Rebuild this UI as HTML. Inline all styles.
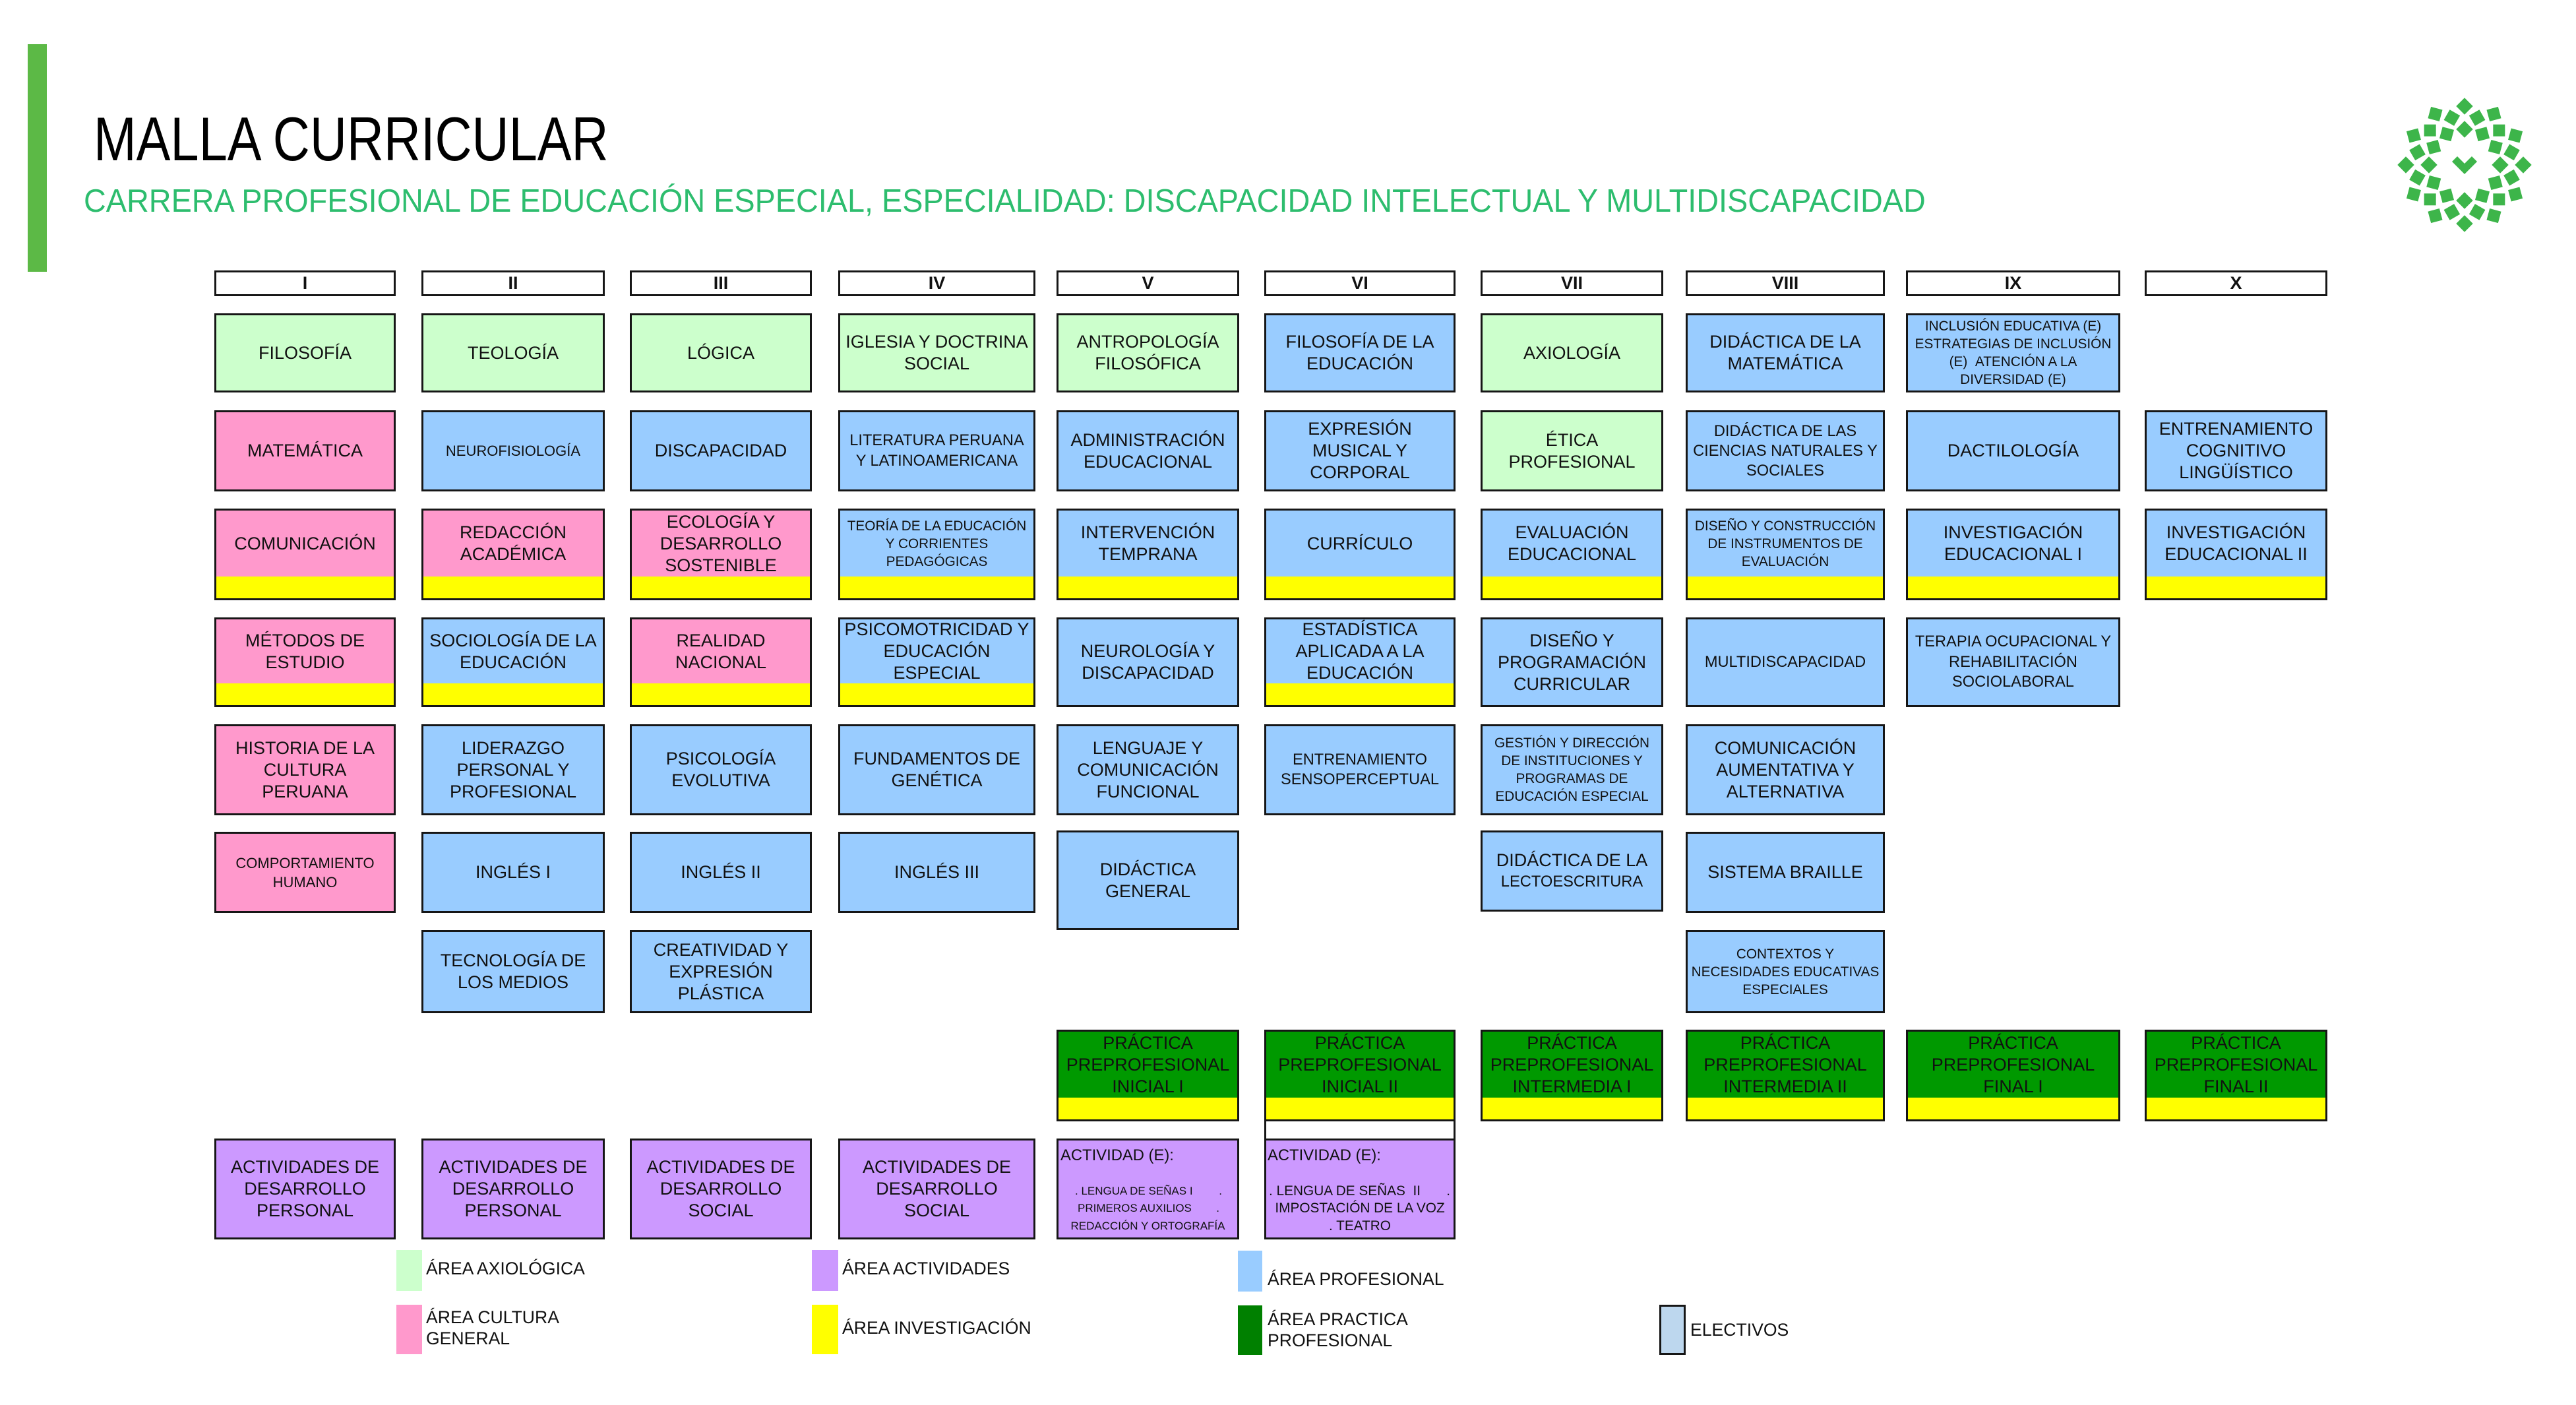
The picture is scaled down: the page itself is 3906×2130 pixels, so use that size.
<!DOCTYPE html>
<html><head><meta charset="utf-8">
<style>
html,body{margin:0;padding:0}
body{width:3906px;height:2130px;position:relative;background:#fff;font-family:"Liberation Sans",Arial,sans-serif;overflow:hidden;color:#111}
.b{position:absolute;box-sizing:border-box;border:3px solid #161616}
.t{position:absolute;left:0;right:0;top:0;bottom:0;display:flex;align-items:center;justify-content:center;text-align:center;white-space:nowrap;font-size:27px;line-height:33px}
.yb{bottom:33px}
.y{position:absolute;left:0;right:0;bottom:0;height:33px;background:#ffff00}
.h{top:410px;height:39px;background:#fff;display:flex;align-items:center;justify-content:center;font-weight:bold;font-size:27px}
.s24{font-size:23.6px;line-height:30.5px}
.s22{font-size:22px;line-height:29px}
.s21{font-size:20.8px;line-height:27px}
.lg{background:#ccffcc}.pk{background:#ff99cc}.bl{background:#99ccff}.pu{background:#cc99ff}.dg{background:#009900}
.leg{position:absolute;white-space:nowrap;font-size:26.6px;line-height:32px}
.sq{position:absolute}
.ab{position:absolute;white-space:nowrap}
</style></head><body>

<!-- left bar -->
<div style="position:absolute;left:42px;top:67px;width:29px;height:345px;background:#5cb946"></div>

<!-- title -->
<div style="position:absolute;left:142px;top:164px;font-size:93.5px;line-height:93.5px;transform:scaleX(0.83);transform-origin:0 0;white-space:nowrap;color:#000">MALLA CURRICULAR</div>
<div style="position:absolute;left:127px;top:280.5px;font-size:49px;line-height:49px;transform:scaleX(0.955);transform-origin:0 0;white-space:nowrap;color:#2dbd6e">CARRERA PROFESIONAL DE EDUCACIÓN ESPECIAL, ESPECIALIDAD: DISCAPACIDAD INTELECTUAL Y MULTIDISCAPACIDAD</div>

<!-- logo -->
<svg style="position:absolute;left:0;top:0" width="3906" height="2130" viewBox="0 0 3906 2130">
<g transform="translate(3737,250)" fill="#3db54a">
<rect x="-9" y="-9" width="18" height="18" transform="rotate(0) translate(0,-89) rotate(45)"/>
<rect x="-9" y="-9" width="18" height="18" transform="rotate(30) translate(0,-89) rotate(45)"/>
<rect x="-9" y="-9" width="18" height="18" transform="rotate(60) translate(0,-89) rotate(45)"/>
<rect x="-9" y="-9" width="18" height="18" transform="rotate(90) translate(0,-89) rotate(45)"/>
<rect x="-9" y="-9" width="18" height="18" transform="rotate(120) translate(0,-89) rotate(45)"/>
<rect x="-9" y="-9" width="18" height="18" transform="rotate(150) translate(0,-89) rotate(45)"/>
<rect x="-9" y="-9" width="18" height="18" transform="rotate(180) translate(0,-89) rotate(45)"/>
<rect x="-9" y="-9" width="18" height="18" transform="rotate(210) translate(0,-89) rotate(45)"/>
<rect x="-9" y="-9" width="18" height="18" transform="rotate(240) translate(0,-89) rotate(45)"/>
<rect x="-9" y="-9" width="18" height="18" transform="rotate(270) translate(0,-89) rotate(45)"/>
<rect x="-9" y="-9" width="18" height="18" transform="rotate(300) translate(0,-89) rotate(45)"/>
<rect x="-9" y="-9" width="18" height="18" transform="rotate(330) translate(0,-89) rotate(45)"/>
<rect x="-9" y="-9" width="18" height="18" transform="rotate(15) translate(0,-74) rotate(45)"/>
<rect x="-9" y="-9" width="18" height="18" transform="rotate(45) translate(0,-74) rotate(45)"/>
<rect x="-9" y="-9" width="18" height="18" transform="rotate(75) translate(0,-74) rotate(45)"/>
<rect x="-9" y="-9" width="18" height="18" transform="rotate(105) translate(0,-74) rotate(45)"/>
<rect x="-9" y="-9" width="18" height="18" transform="rotate(135) translate(0,-74) rotate(45)"/>
<rect x="-9" y="-9" width="18" height="18" transform="rotate(165) translate(0,-74) rotate(45)"/>
<rect x="-9" y="-9" width="18" height="18" transform="rotate(195) translate(0,-74) rotate(45)"/>
<rect x="-9" y="-9" width="18" height="18" transform="rotate(225) translate(0,-74) rotate(45)"/>
<rect x="-9" y="-9" width="18" height="18" transform="rotate(255) translate(0,-74) rotate(45)"/>
<rect x="-9" y="-9" width="18" height="18" transform="rotate(285) translate(0,-74) rotate(45)"/>
<rect x="-9" y="-9" width="18" height="18" transform="rotate(315) translate(0,-74) rotate(45)"/>
<rect x="-9" y="-9" width="18" height="18" transform="rotate(345) translate(0,-74) rotate(45)"/>
<rect x="-9" y="-9" width="18" height="18" transform="rotate(0) translate(0,-54) rotate(45)"/>
<rect x="-9" y="-9" width="18" height="18" transform="rotate(30) translate(0,-54) rotate(45)"/>
<rect x="-9" y="-9" width="18" height="18" transform="rotate(60) translate(0,-54) rotate(45)"/>
<rect x="-9" y="-9" width="18" height="18" transform="rotate(90) translate(0,-54) rotate(45)"/>
<rect x="-9" y="-9" width="18" height="18" transform="rotate(120) translate(0,-54) rotate(45)"/>
<rect x="-9" y="-9" width="18" height="18" transform="rotate(150) translate(0,-54) rotate(45)"/>
<rect x="-9" y="-9" width="18" height="18" transform="rotate(180) translate(0,-54) rotate(45)"/>
<rect x="-9" y="-9" width="18" height="18" transform="rotate(210) translate(0,-54) rotate(45)"/>
<rect x="-9" y="-9" width="18" height="18" transform="rotate(240) translate(0,-54) rotate(45)"/>
<rect x="-9" y="-9" width="18" height="18" transform="rotate(270) translate(0,-54) rotate(45)"/>
<rect x="-9" y="-9" width="18" height="18" transform="rotate(300) translate(0,-54) rotate(45)"/>
<rect x="-9" y="-9" width="18" height="18" transform="rotate(330) translate(0,-54) rotate(45)"/>
<polygon points="-19,-5 -11,-13 0,-2 11,-13 19,-5 0,14"/>
</g>
</svg>

<!-- headers -->
<div class="b h" style="left:325px;width:275px">I</div>
<div class="b h" style="left:639px;width:278px">II</div>
<div class="b h" style="left:955px;width:276px">III</div>
<div class="b h" style="left:1271px;width:299px">IV</div>
<div class="b h" style="left:1602px;width:277px">V</div>
<div class="b h" style="left:1917px;width:290px">VI</div>
<div class="b h" style="left:2245px;width:277px">VII</div>
<div class="b h" style="left:2556px;width:302px">VIII</div>
<div class="b h" style="left:2890px;width:325px">IX</div>
<div class="b h" style="left:3252px;width:277px">X</div>

<!-- Column I -->
<div class="b lg" style="left:325px;top:475px;width:275px;height:120px"><div class="t">FILOSOFÍA</div></div>
<div class="b pk" style="left:325px;top:622px;width:275px;height:123px"><div class="t">MATEMÁTICA</div></div>
<div class="b pk" style="left:325px;top:771px;width:275px;height:139px"><div class="t yb">COMUNICACIÓN</div><div class="y"></div></div>
<div class="b pk" style="left:325px;top:936px;width:275px;height:136px"><div class="t yb">MÉTODOS DE<br>ESTUDIO</div><div class="y"></div></div>
<div class="b pk" style="left:325px;top:1098px;width:275px;height:138px"><div class="t">HISTORIA DE LA<br>CULTURA<br>PERUANA</div></div>
<div class="b pk" style="left:325px;top:1261px;width:275px;height:123px"><div class="t s22">COMPORTAMIENTO<br>HUMANO</div></div>
<div class="b pu" style="left:325px;top:1726px;width:275px;height:153px"><div class="t">ACTIVIDADES DE<br>DESARROLLO<br>PERSONAL</div></div>

<!-- Column II -->
<div class="b lg" style="left:639px;top:475px;width:278px;height:120px"><div class="t">TEOLOGÍA</div></div>
<div class="b bl" style="left:639px;top:622px;width:278px;height:123px"><div class="t s22">NEUROFISIOLOGÍA</div></div>
<div class="b pk" style="left:639px;top:771px;width:278px;height:139px"><div class="t yb">REDACCIÓN<br>ACADÉMICA</div><div class="y"></div></div>
<div class="b bl" style="left:639px;top:936px;width:278px;height:136px"><div class="t yb">SOCIOLOGÍA DE LA<br>EDUCACIÓN</div><div class="y"></div></div>
<div class="b bl" style="left:639px;top:1098px;width:278px;height:138px"><div class="t">LIDERAZGO<br>PERSONAL Y<br>PROFESIONAL</div></div>
<div class="b bl" style="left:639px;top:1261px;width:278px;height:123px"><div class="t">INGLÉS I</div></div>
<div class="b bl" style="left:639px;top:1410px;width:278px;height:126px"><div class="t">TECNOLOGÍA DE<br>LOS MEDIOS</div></div>
<div class="b pu" style="left:639px;top:1726px;width:278px;height:153px"><div class="t">ACTIVIDADES DE<br>DESARROLLO<br>PERSONAL</div></div>

<!-- Column III -->
<div class="b lg" style="left:955px;top:475px;width:276px;height:120px"><div class="t">LÓGICA</div></div>
<div class="b bl" style="left:955px;top:622px;width:276px;height:123px"><div class="t">DISCAPACIDAD</div></div>
<div class="b pk" style="left:955px;top:771px;width:276px;height:139px"><div class="t yb">ECOLOGÍA Y<br>DESARROLLO<br>SOSTENIBLE</div><div class="y"></div></div>
<div class="b pk" style="left:955px;top:936px;width:276px;height:136px"><div class="t yb">REALIDAD<br>NACIONAL</div><div class="y"></div></div>
<div class="b bl" style="left:955px;top:1098px;width:276px;height:138px"><div class="t">PSICOLOGÍA<br>EVOLUTIVA</div></div>
<div class="b bl" style="left:955px;top:1261px;width:276px;height:123px"><div class="t">INGLÉS II</div></div>
<div class="b bl" style="left:955px;top:1410px;width:276px;height:126px"><div class="t">CREATIVIDAD Y<br>EXPRESIÓN<br>PLÁSTICA</div></div>
<div class="b pu" style="left:955px;top:1726px;width:276px;height:153px"><div class="t">ACTIVIDADES DE<br>DESARROLLO<br>SOCIAL</div></div>

<!-- Column IV -->
<div class="b lg" style="left:1271px;top:475px;width:299px;height:120px"><div class="t">IGLESIA Y DOCTRINA<br>SOCIAL</div></div>
<div class="b bl" style="left:1271px;top:622px;width:299px;height:123px"><div class="t s24">LITERATURA PERUANA<br>Y LATINOAMERICANA</div></div>
<div class="b bl" style="left:1271px;top:771px;width:299px;height:139px"><div class="t yb s21">TEORÍA DE LA EDUCACIÓN<br>Y CORRIENTES<br>PEDAGÓGICAS</div><div class="y"></div></div>
<div class="b bl" style="left:1271px;top:936px;width:299px;height:136px"><div class="t yb">PSICOMOTRICIDAD Y<br>EDUCACIÓN<br>ESPECIAL</div><div class="y"></div></div>
<div class="b bl" style="left:1271px;top:1098px;width:299px;height:138px"><div class="t">FUNDAMENTOS DE<br>GENÉTICA</div></div>
<div class="b bl" style="left:1271px;top:1261px;width:299px;height:123px"><div class="t">INGLÉS III</div></div>
<div class="b pu" style="left:1271px;top:1726px;width:299px;height:153px"><div class="t">ACTIVIDADES DE<br>DESARROLLO<br>SOCIAL</div></div>

<!-- Column V -->
<div class="b lg" style="left:1602px;top:475px;width:277px;height:120px"><div class="t">ANTROPOLOGÍA<br>FILOSÓFICA</div></div>
<div class="b bl" style="left:1602px;top:622px;width:277px;height:123px"><div class="t">ADMINISTRACIÓN<br>EDUCACIONAL</div></div>
<div class="b bl" style="left:1602px;top:771px;width:277px;height:139px"><div class="t yb">INTERVENCIÓN<br>TEMPRANA</div><div class="y"></div></div>
<div class="b bl" style="left:1602px;top:936px;width:277px;height:136px"><div class="t">NEUROLOGÍA Y<br>DISCAPACIDAD</div></div>
<div class="b bl" style="left:1602px;top:1098px;width:277px;height:138px"><div class="t">LENGUAJE Y<br>COMUNICACIÓN<br>FUNCIONAL</div></div>
<div class="b bl" style="left:1602px;top:1259px;width:277px;height:151px"><div class="t">DIDÁCTICA<br>GENERAL</div></div>
<div class="b dg" style="left:1602px;top:1561px;width:277px;height:139px"><div class="t yb">PRÁCTICA<br>PREPROFESIONAL<br>INICIAL I</div><div class="y"></div></div>
<div class="b pu" style="left:1602px;top:1726px;width:277px;height:153px">
  <div class="ab" style="left:3px;top:9px;font-size:23.8px;line-height:28px">ACTIVIDAD (E):</div>
  <div class="ab" style="left:25px;width:223px;top:64px;font-size:17px;line-height:26px;display:flex;justify-content:space-between"><span>. LENGUA DE SEÑAS I</span><span>.</span></div>
  <div class="ab" style="left:29px;width:215px;top:90px;font-size:17px;line-height:26px;display:flex;justify-content:space-between"><span>PRIMEROS AUXILIOS</span><span>.</span></div>
  <div class="ab" style="left:0;right:0;top:117px;font-size:17px;line-height:26px;text-align:center">REDACCIÓN Y ORTOGRAFÍA</div>
</div>

<!-- Column VI -->
<div class="b bl" style="left:1917px;top:475px;width:290px;height:120px"><div class="t">FILOSOFÍA DE LA<br>EDUCACIÓN</div></div>
<div class="b bl" style="left:1917px;top:622px;width:290px;height:123px"><div class="t">EXPRESIÓN<br>MUSICAL Y<br>CORPORAL</div></div>
<div class="b bl" style="left:1917px;top:771px;width:290px;height:139px"><div class="t yb">CURRÍCULO</div><div class="y"></div></div>
<div class="b bl" style="left:1917px;top:936px;width:290px;height:136px"><div class="t yb">ESTADÍSTICA<br>APLICADA A LA<br>EDUCACIÓN</div><div class="y"></div></div>
<div class="b bl" style="left:1917px;top:1098px;width:290px;height:138px"><div class="t s24">ENTRENAMIENTO<br>SENSOPERCEPTUAL</div></div>
<div class="b" style="left:1917px;top:1697px;width:290px;height:32px;background:#fff"></div>
<div class="b dg" style="left:1917px;top:1561px;width:290px;height:139px"><div class="t yb">PRÁCTICA<br>PREPROFESIONAL<br>INICIAL II</div><div class="y"></div></div>
<div class="b pu" style="left:1917px;top:1726px;width:290px;height:153px">
  <div class="ab" style="left:2px;top:9px;font-size:23.8px;line-height:28px">ACTIVIDAD (E):</div>
  <div class="ab" style="left:4px;width:275px;top:63px;font-size:20.8px;line-height:27px;display:flex;justify-content:space-between"><span>. LENGUA DE SEÑAS &nbsp;II</span><span>.</span></div>
  <div class="ab" style="left:0;right:0;top:89px;font-size:20.8px;line-height:27px;text-align:center">IMPOSTACIÓN DE LA VOZ</div>
  <div class="ab" style="left:0;right:0;top:116px;font-size:20.8px;line-height:27px;text-align:center">. TEATRO</div>
</div>

<!-- Column VII -->
<div class="b lg" style="left:2245px;top:475px;width:277px;height:120px"><div class="t">AXIOLOGÍA</div></div>
<div class="b lg" style="left:2245px;top:622px;width:277px;height:123px"><div class="t">ÉTICA<br>PROFESIONAL</div></div>
<div class="b bl" style="left:2245px;top:771px;width:277px;height:139px"><div class="t yb">EVALUACIÓN<br>EDUCACIONAL</div><div class="y"></div></div>
<div class="b bl" style="left:2245px;top:936px;width:277px;height:136px"><div class="t">DISEÑO Y<br>PROGRAMACIÓN<br>CURRICULAR</div></div>
<div class="b bl" style="left:2245px;top:1098px;width:277px;height:138px"><div class="t s21">GESTIÓN Y DIRECCIÓN<br>DE INSTITUCIONES Y<br>PROGRAMAS DE<br>EDUCACIÓN ESPECIAL</div></div>
<div class="b bl" style="left:2245px;top:1259px;width:277px;height:123px"><div class="t" style="line-height:31px"><div>DIDÁCTICA DE LA<br><span style="font-size:23.7px">LECTOESCRITURA</span></div></div></div>
<div class="b dg" style="left:2245px;top:1561px;width:277px;height:139px"><div class="t yb">PRÁCTICA<br>PREPROFESIONAL<br>INTERMEDIA I</div><div class="y"></div></div>

<!-- Column VIII -->
<div class="b bl" style="left:2556px;top:475px;width:302px;height:120px"><div class="t">DIDÁCTICA DE LA<br>MATEMÁTICA</div></div>
<div class="b bl" style="left:2556px;top:622px;width:302px;height:123px"><div class="t s24" style="line-height:30px">DIDÁCTICA DE LAS<br>CIENCIAS NATURALES Y<br>SOCIALES</div></div>
<div class="b bl" style="left:2556px;top:771px;width:302px;height:139px"><div class="t yb s21">DISEÑO Y CONSTRUCCIÓN<br>DE INSTRUMENTOS DE<br>EVALUACIÓN</div><div class="y"></div></div>
<div class="b bl" style="left:2556px;top:936px;width:302px;height:136px"><div class="t s24">MULTIDISCAPACIDAD</div></div>
<div class="b bl" style="left:2556px;top:1098px;width:302px;height:138px"><div class="t">COMUNICACIÓN<br>AUMENTATIVA Y<br>ALTERNATIVA</div></div>
<div class="b bl" style="left:2556px;top:1261px;width:302px;height:123px"><div class="t">SISTEMA BRAILLE</div></div>
<div class="b bl" style="left:2556px;top:1410px;width:302px;height:126px"><div class="t s21">CONTEXTOS Y<br>NECESIDADES EDUCATIVAS<br>ESPECIALES</div></div>
<div class="b dg" style="left:2556px;top:1561px;width:302px;height:139px"><div class="t yb">PRÁCTICA<br>PREPROFESIONAL<br>INTERMEDIA II</div><div class="y"></div></div>

<!-- Column IX -->
<div class="b bl" style="left:2890px;top:475px;width:325px;height:120px"><div class="t s21">INCLUSIÓN EDUCATIVA (E)<br>ESTRATEGIAS DE INCLUSIÓN<br>(E) &nbsp;ATENCIÓN A LA<br>DIVERSIDAD (E)</div></div>
<div class="b bl" style="left:2890px;top:622px;width:325px;height:123px"><div class="t">DACTILOLOGÍA</div></div>
<div class="b bl" style="left:2890px;top:771px;width:325px;height:139px"><div class="t yb">INVESTIGACIÓN<br>EDUCACIONAL I</div><div class="y"></div></div>
<div class="b bl" style="left:2890px;top:936px;width:325px;height:136px"><div class="t s24">TERAPIA OCUPACIONAL Y<br>REHABILITACIÓN<br>SOCIOLABORAL</div></div>
<div class="b dg" style="left:2890px;top:1561px;width:325px;height:139px"><div class="t yb">PRÁCTICA<br>PREPROFESIONAL<br>FINAL I</div><div class="y"></div></div>

<!-- Column X -->
<div class="b bl" style="left:3252px;top:622px;width:277px;height:123px"><div class="t">ENTRENAMIENTO<br>COGNITIVO<br>LINGÜÍSTICO</div></div>
<div class="b bl" style="left:3252px;top:771px;width:277px;height:139px"><div class="t yb">INVESTIGACIÓN<br>EDUCACIONAL II</div><div class="y"></div></div>
<div class="b dg" style="left:3252px;top:1561px;width:277px;height:139px"><div class="t yb">PRÁCTICA<br>PREPROFESIONAL<br>FINAL II</div><div class="y"></div></div>

<!-- Legend -->
<div class="sq" style="left:601px;top:1895px;width:39px;height:62px;background:#ccffcc"></div>
<div class="leg" style="left:646px;top:1907px">ÁREA AXIOLÓGICA</div>
<div class="sq" style="left:601px;top:1978px;width:39px;height:75px;background:#ff99cc"></div>
<div class="leg" style="left:646px;top:1981px">ÁREA CULTURA<br>GENERAL</div>

<div class="sq" style="left:1231px;top:1895px;width:40px;height:62px;background:#cc99ff"></div>
<div class="leg" style="left:1277px;top:1907px">ÁREA ACTIVIDADES</div>
<div class="sq" style="left:1231px;top:1978px;width:40px;height:75px;background:#ffff00"></div>
<div class="leg" style="left:1277px;top:1997px">ÁREA INVESTIGACIÓN</div>

<div class="sq" style="left:1877px;top:1896px;width:37px;height:62px;background:#99ccff"></div>
<div class="leg" style="left:1922px;top:1923px">ÁREA PROFESIONAL</div>
<div class="sq" style="left:1877px;top:1979px;width:37px;height:75px;background:#008000"></div>
<div class="leg" style="left:1922px;top:1984px">ÁREA PRACTICA<br>PROFESIONAL</div>

<div class="b" style="left:2516px;top:1978px;width:40px;height:76px;background:#bdd7ee"></div>
<div class="leg" style="left:2563px;top:2000px">ELECTIVOS</div>

</body></html>
